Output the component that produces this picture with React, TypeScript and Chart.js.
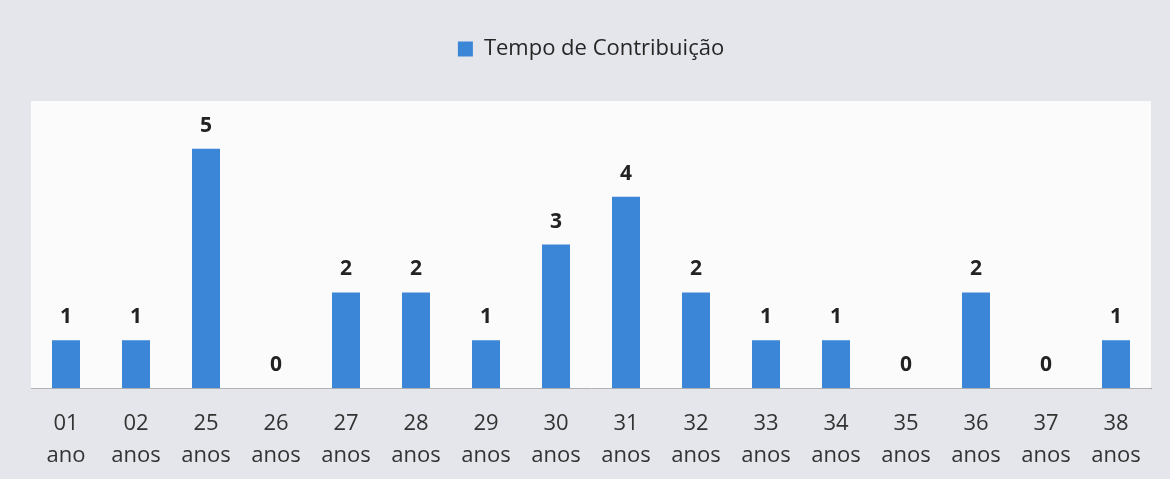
import React, { useEffect, useRef } from "react";
import { Chart, registerables } from "chart.js";

Chart.register(...registerables);

const categories: string[][] = [
  ["01", "ano"], ["02", "anos"], ["25", "anos"], ["26", "anos"],
  ["27", "anos"], ["28", "anos"], ["29", "anos"], ["30", "anos"],
  ["31", "anos"], ["32", "anos"], ["33", "anos"], ["34", "anos"],
  ["35", "anos"], ["36", "anos"], ["37", "anos"], ["38", "anos"],
];
const seriesName = "Tempo de Contribuição";
const values: number[] = [1, 1, 5, 0, 2, 2, 1, 3, 4, 2, 1, 1, 0, 2, 0, 1];

const BAR = "#3b86d6";
const FONT = "'Open Sans', 'DejaVu Sans', sans-serif";

export default function App() {
  const ref = useRef<HTMLCanvasElement>(null);
  useEffect(() => {
    document.body.style.margin = "0";
    const canvas = ref.current!;
    const helper = {
      id: "helper",
      beforeLayout(chart: any) {
        const lg = chart.legend;
        if (lg && !lg._patched) {
          const f = lg.fit;
          lg.fit = function () {
            f.call(this);
            this.height += 31;
          };
          lg._patched = true;
        }
      },
      beforeDatasetsDraw(chart: any) {
        const { ctx, chartArea: a } = chart;
        ctx.save();
        ctx.fillStyle = "#fbfbfc";
        ctx.fillRect(a.left, a.top, a.right - a.left, a.bottom - a.top);
        ctx.restore();
      },
      afterDatasetsDraw(chart: any) {
        const { ctx } = chart;
        const meta = chart.getDatasetMeta(0);
        ctx.save();
        ctx.font = `bold 21px ${FONT}`;
        ctx.fillStyle = "#222222";
        ctx.textAlign = "center";
        ctx.textBaseline = "alphabetic";
        meta.data.forEach((el: any, i: number) => {
          ctx.fillText(String(values[i]), el.x, el.y - 17);
        });
        ctx.restore();
      },
    };
    const chart = new Chart(canvas, {
      type: "bar",
      data: {
        labels: categories,
        datasets: [
          {
            label: seriesName,
            data: values,
            backgroundColor: BAR,
            borderWidth: 0,
            barPercentage: 0.4,
            categoryPercentage: 1,
          },
        ],
      },
      options: {
        responsive: false,
        animation: false,
        layout: { padding: { top: 13, left: 31, right: 19, bottom: 8 } },
        plugins: {
          tooltip: { enabled: false },
          legend: {
            position: "top",
            labels: {
              boxWidth: 15,
              boxHeight: 15,
              padding: 25,
              color: "#262626",
              font: { family: FONT, size: 22 },
            },
          },
        },
        scales: {
          x: {
            grid: { display: false, drawTicks: false },
            border: { display: true, color: "#a0a0a0", width: 1 },
            afterFit(scale: any) {
              scale.height -= 21;
            },
            ticks: {
              color: "#333333",
              padding: 20,
              maxRotation: 0,
              autoSkip: false,
              font: { family: FONT, size: 22, lineHeight: 1.45 },
            },
          },
          y: { display: false, min: 0, max: 6 },
        },
      },
      plugins: [helper],
    });
    return () => chart.destroy();
  }, []);
  return (
    <div style={{ width: 1170, height: 479, background: "#e5e6eb" }}>
      <canvas ref={ref} width={1170} height={479} style={{ display: "block" }} />
    </div>
  );
}
